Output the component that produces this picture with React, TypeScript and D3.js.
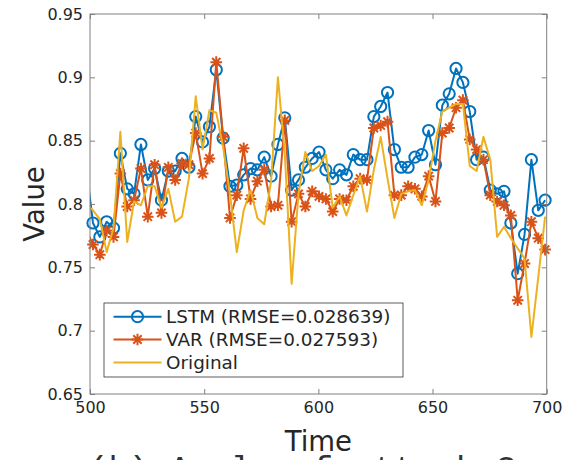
import React, { useEffect, useRef } from 'react';
import * as d3 from 'd3';

// sample times (first one sits just left of the axis and gets clipped)
const time = [
  498.3, 501.3, 504.3, 507.3, 510.3, 513.3, 516.3, 519.3, 522.3, 525.3,
  528.3, 531.3, 534.3, 537.3, 540.3, 543.3, 546.3, 549.3, 552.3, 555.3,
  558.3, 561.3, 564.3, 567.3, 570.3, 573.3, 576.3, 579.3, 582.3, 585.3,
  588.3, 591.3, 594.3, 597.3, 600.3, 603.3, 606.3, 609.3, 612.3, 615.3,
  618.3, 621.3, 624.3, 627.3, 630.3, 633.3, 636.3, 639.3, 642.3, 645.3,
  648.3, 651.3, 654.3, 657.3, 660.3, 663.3, 666.3, 669.3, 672.3, 675.3,
  678.3, 681.3, 684.3, 687.3, 690.3, 693.3, 696.3, 699.3,
];

const lstm = [
  0.830, 0.785, 0.774, 0.786, 0.781, 0.840, 0.812, 0.808, 0.847, 0.819,
  0.828, 0.803, 0.826, 0.826, 0.836, 0.829, 0.869, 0.849, 0.861, 0.906,
  0.852, 0.814, 0.815, 0.823, 0.828, 0.827, 0.837, 0.822, 0.847, 0.868,
  0.811, 0.819, 0.829, 0.836, 0.841, 0.827, 0.820, 0.827, 0.823, 0.839,
  0.835, 0.835, 0.869, 0.877, 0.888, 0.843, 0.829, 0.829, 0.837, 0.839,
  0.858, 0.831, 0.878, 0.887, 0.907, 0.896, 0.873, 0.835, 0.837, 0.811,
  0.808, 0.810, 0.785, 0.745, 0.776, 0.835, 0.795, 0.803,
];

const varPred = [
  0.780, 0.768, 0.760, 0.779, 0.774, 0.824, 0.798, 0.803, 0.828, 0.790,
  0.831, 0.793, 0.829, 0.819, 0.832, 0.831, 0.856, 0.824, 0.836, 0.912,
  0.853, 0.789, 0.807, 0.844, 0.804, 0.818, 0.827, 0.798, 0.799, 0.866,
  0.786, 0.808, 0.798, 0.810, 0.806, 0.804, 0.794, 0.804, 0.803, 0.814,
  0.820, 0.819, 0.860, 0.862, 0.865, 0.807, 0.807, 0.814, 0.812, 0.806,
  0.822, 0.802, 0.856, 0.860, 0.876, 0.882, 0.851, 0.843, 0.835, 0.807,
  0.802, 0.799, 0.791, 0.724, 0.753, 0.786, 0.773, 0.764,
];

const original = [
  0.800, 0.795, 0.788, 0.762, 0.781, 0.857, 0.770, 0.802, 0.799, 0.814,
  0.814, 0.797, 0.812, 0.786, 0.790, 0.820, 0.885, 0.843, 0.874, 0.872,
  0.845, 0.808, 0.762, 0.795, 0.811, 0.789, 0.784, 0.818, 0.900, 0.840,
  0.737, 0.808, 0.841, 0.826, 0.830, 0.839, 0.797, 0.806, 0.791, 0.807,
  0.822, 0.794, 0.827, 0.853, 0.820, 0.789, 0.808, 0.810, 0.811, 0.799,
  0.819, 0.850, 0.873, 0.876, 0.879, 0.879, 0.830, 0.826, 0.853, 0.835,
  0.774, 0.782, 0.773, 0.765, 0.757, 0.695, 0.742, 0.790,
];

const xTicks = [500, 550, 600, 650, 700];
const yTicks = [0.65, 0.7, 0.75, 0.8, 0.85, 0.9, 0.95];
const legendLabels = ['LSTM (RMSE=0.028639)', 'VAR (RMSE=0.027593)', 'Original'];
const seriesColors = ['#0072BD', '#D95319', '#EDB120'];

const FONT = '"DejaVu Sans", Verdana, sans-serif';

// MATLAB style '*' marker: a plus and a cross on top of each other
function starPath(s) {
  const d = s * 0.72;
  return `M${-s},0L${s},0M0,${-s}L0,${s}M${-d},${-d}L${d},${d}M${-d},${d}L${d},${-d}`;
}

function App() {
  const svgRef = useRef(null);

  useEffect(() => {
    const svg = d3.select(svgRef.current);
    svg.selectAll('*').remove();
    const width = +svg.attr('width');
    const height = +svg.attr('height');
    const margin = { top: 14, right: 18.3, bottom: 66, left: 90 };
    const innerWidth = width - margin.left - margin.right;
    const innerHeight = height - margin.top - margin.bottom;

    const xScale = d3.scaleLinear().domain([500, 700]).range([0, innerWidth]);
    const yScale = d3.scaleLinear().domain([0.65, 0.95]).range([innerHeight, 0]);

    svg.append('defs').append('clipPath').attr('id', 'plot-clip')
      .append('rect')
      .attr('width', innerWidth)
      .attr('height', innerHeight);

    const g = svg.append('g')
      .attr('transform', `translate(${margin.left},${margin.top})`);

    const series = [
      { values: lstm, color: seriesColors[0], marker: 'circle' },
      { values: varPred, color: seriesColors[1], marker: 'star' },
      { values: original, color: seriesColors[2], marker: null },
    ];

    const line = d3.line()
      .x((d, i) => xScale(time[i]))
      .y(d => yScale(d));

    series.forEach(s => {
      g.append('path')
        .datum(s.values)
        .attr('clip-path', 'url(#plot-clip)')
        .attr('fill', 'none')
        .attr('stroke', s.color)
        .attr('stroke-width', 2)
        .attr('stroke-linejoin', 'round')
        .attr('d', line);

      const pts = s.values
        .map((v, i) => ({ t: time[i], v }))
        .filter(p => p.t >= 500 && p.t <= 700);

      if (s.marker === 'circle') {
        g.append('g').selectAll('circle')
          .data(pts)
          .enter()
          .append('circle')
          .attr('cx', d => xScale(d.t))
          .attr('cy', d => yScale(d.v))
          .attr('r', 5.6)
          .attr('fill', 'none')
          .attr('stroke', s.color)
          .attr('stroke-width', 2);
      } else if (s.marker === 'star') {
        g.append('g').selectAll('path')
          .data(pts)
          .enter()
          .append('path')
          .attr('transform', d => `translate(${xScale(d.t)},${yScale(d.v)})`)
          .attr('d', starPath(5.8))
          .attr('fill', 'none')
          .attr('stroke', s.color)
          .attr('stroke-width', 2);
      }
    });

    // axes: labelled bottom / left, tick-only top / right, ticks pointing inward
    const axisColor = '#808080';
    const textColor = '#262626';

    const bottom = g.append('g')
      .attr('transform', `translate(0,${innerHeight})`)
      .call(d3.axisBottom(xScale).tickValues(xTicks).tickSize(-5).tickPadding(8).tickFormat(d3.format('d')));
    const left = g.append('g')
      .call(d3.axisLeft(yScale).tickValues(yTicks).tickSize(-5).tickPadding(7).tickFormat(d => String(+d.toFixed(2))));
    const top = g.append('g')
      .call(d3.axisTop(xScale).tickValues(xTicks).tickSize(-5).tickFormat(() => ''));
    const right = g.append('g')
      .attr('transform', `translate(${innerWidth},0)`)
      .call(d3.axisRight(yScale).tickValues(yTicks).tickSize(-5).tickFormat(() => ''));

    [bottom, left, top, right].forEach(a => {
      a.select('.domain').remove();
      a.selectAll('line').attr('stroke', axisColor);
      a.attr('font-family', FONT).attr('font-size', 16);
      a.selectAll('text').attr('fill', textColor);
    });

    g.append('rect')
      .attr('width', innerWidth)
      .attr('height', innerHeight)
      .attr('fill', 'none')
      .attr('stroke', axisColor)
      .attr('stroke-width', 1);

    // axis titles
    svg.append('text')
      .attr('x', margin.left + innerWidth / 2)
      .attr('y', 451)
      .attr('text-anchor', 'middle')
      .attr('font-family', FONT)
      .attr('font-size', 27.5)
      .attr('fill', textColor)
      .text('Time');

    svg.append('text')
      .attr('transform', `translate(44,${margin.top + innerHeight / 2}) rotate(-90)`)
      .attr('text-anchor', 'middle')
      .attr('font-family', FONT)
      .attr('font-size', 27.5)
      .attr('fill', textColor)
      .text('Value');

    // caption of the sub-figure, mostly cut off by the bottom edge
    svg.append('text')
      .attr('x', 88)
      .attr('y', 479)
      .attr('font-family', '"Liberation Mono", monospace')
      .attr('font-size', 34)
      .attr('fill', '#333')
      .text('(b) Angle of attack 2');

    // legend
    const legend = g.append('g')
      .attr('transform', `translate(${104 - margin.left},${303 - margin.top})`);
    legend.append('rect')
      .attr('width', 299)
      .attr('height', 74)
      .attr('fill', '#fff')
      .attr('stroke', '#333')
      .attr('stroke-width', 0.8);

    const rowY = [13.7, 36.5, 59.5];
    legendLabels.forEach((label, i) => {
      const row = legend.append('g').attr('transform', `translate(0,${rowY[i]})`);
      row.append('line')
        .attr('x1', 9.5).attr('x2', 57.5)
        .attr('stroke', seriesColors[i])
        .attr('stroke-width', 2);
      if (series[i].marker === 'circle') {
        row.append('circle')
          .attr('cx', 33.5).attr('r', 5.6)
          .attr('fill', 'none')
          .attr('stroke', seriesColors[i])
          .attr('stroke-width', 2);
      } else if (series[i].marker === 'star') {
        row.append('path')
          .attr('transform', 'translate(33.5,0)')
          .attr('d', starPath(5.8))
          .attr('fill', 'none')
          .attr('stroke', seriesColors[i])
          .attr('stroke-width', 2);
      }
      row.append('text')
        .attr('x', 62)
        .attr('dy', '0.35em')
        .attr('font-family', FONT)
        .attr('font-size', 18.4)
        .attr('fill', textColor)
        .text(label);
    });
  }, []);

  return (
    <svg
      ref={svgRef}
      width={565}
      height={460}
      style={{ position: 'absolute', left: 0, top: 0, background: '#fff' }}
    ></svg>
  );
}

export default App;
